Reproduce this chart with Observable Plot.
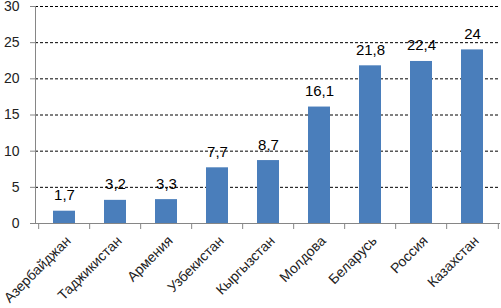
<!DOCTYPE html>
<html><head><meta charset="utf-8">
<script src="https://cdn.jsdelivr.net/npm/d3@7"></script>
<script src="https://cdn.jsdelivr.net/npm/@observablehq/plot@0.6"></script>
<style>html,body{margin:0;padding:0;background:#fff;overflow:hidden}</style>
</head><body><div id="chart"></div>
<script>
const countries = ["Азербайджан","Таджикистан","Армения","Узбекистан","Кыргызстан","Молдова","Беларусь","Россия","Казахстан"];
const values = [1.7,3.2,3.3,7.7,8.7,16.1,21.8,22.4,24];
const yTicks = [0,5,10,15,20,25,30];
const data = countries.map((c,i)=>({country:c, value:values[i]}));
const W=501,H=308, mL=35, mR=1;
const step = (W-mL-mR)/countries.length;
const font = "'Liberation Sans', Arial, sans-serif";
const axisGray = "#868686";
const chart = Plot.plot({
  width:W, height:H, marginLeft:mL, marginRight:mR, marginTop:6, marginBottom:85,
  style:{fontFamily:font, background:"#fff", overflow:"visible"},
  x:{domain:countries, paddingInner:0.57, paddingOuter:0.285, label:null},
  y:{domain:[0,30], label:null},
  marks:[
    Plot.ruleY(yTicks.filter(t=>t>0), {stroke:"#000", strokeDasharray:"3,2", strokeWidth:1}),
    Plot.barY(data, {x:"country", y:"value", fill:"#4a7ebb"}),
    Plot.ruleY([0], {stroke:axisGray}),
    Plot.frame({anchor:"left", stroke:axisGray}),
    Plot.axisY(yTicks, {tickSize:5, tickPadding:11, stroke:axisGray, fill:"#222", fontSize:14, label:null}),
    Plot.axisX(countries, {tickSize:6, tickFormat:()=>"", dx:-step/2, stroke:axisGray, label:null}),
    Plot.axisX([countries[countries.length-1]], {tickSize:6, tickFormat:()=>"", dx:step/2, stroke:axisGray, label:null}),
    Plot.axisX(countries, {tickSize:0, tickPadding:15, dx:4, tickRotate:-45, fontSize:14, fill:"#222", label:null}),
    Plot.text(data, {x:"country", y:"value", text:d=>String(d.value).replace(".", ","), dy:-11, lineAnchor:"bottom", fontSize:15, fill:"#000"})
  ]
});
document.getElementById("chart").appendChild(chart);
</script>
</body></html>
